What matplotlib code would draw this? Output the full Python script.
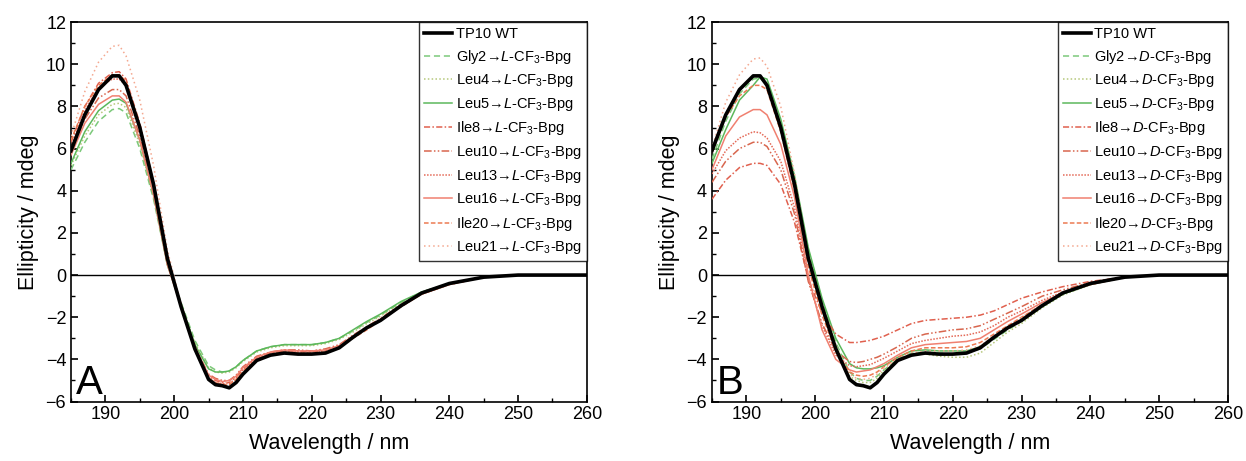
import matplotlib
matplotlib.use("Agg")
import matplotlib.pyplot as plt
from matplotlib.ticker import MultipleLocator

plt.rcParams['font.family'] = ['Liberation Sans', 'DejaVu Sans']
plt.rcParams['mathtext.fontset'] = 'custom'
plt.rcParams['mathtext.rm'] = 'Liberation Sans'
plt.rcParams['mathtext.it'] = 'Liberation Sans:italic'

wavelength = [185, 187, 189, 191, 192, 193, 195, 197, 199, 201, 203, 205, 206, 207, 208, 209,
              210, 212, 214, 216, 218, 220, 222, 224, 226, 228, 230, 233, 236, 240, 245, 250, 255, 260]

wt = [5.9, 7.6, 8.8, 9.45, 9.45, 9.0, 7.0, 4.3, 0.8, -1.5, -3.5, -4.95, -5.2, -5.25, -5.35, -5.1,
      -4.7, -4.05, -3.8, -3.7, -3.75, -3.75, -3.7, -3.45, -2.95, -2.5, -2.15, -1.45, -0.85, -0.4, -0.1, 0.0, 0.0, 0.0]

# Panel A (L-CF3-Bpg)
a_gly2 = [5.0, 6.3, 7.3, 7.85, 7.9, 7.7, 6.0, 3.6, 0.5, -1.3, -3.1, -4.3, -4.5, -4.6, -4.55, -4.35,
          -4.05, -3.6, -3.4, -3.3, -3.3, -3.3, -3.2, -3.0, -2.65, -2.25, -1.9, -1.3, -0.8, -0.4, -0.1, 0.0, 0.0, 0.0]
a_leu4 = [5.2, 6.6, 7.6, 8.1, 8.15, 7.95, 6.2, 3.7, 0.5, -1.4, -3.2, -4.4, -4.6, -4.65, -4.6, -4.4,
          -4.1, -3.65, -3.45, -3.35, -3.35, -3.35, -3.25, -3.05, -2.7, -2.3, -1.95, -1.35, -0.85, -0.4, -0.1, 0.0, 0.0, 0.0]
a_leu5 = [5.3, 6.8, 7.8, 8.3, 8.35, 8.15, 6.4, 3.8, 0.5, -1.4, -3.3, -4.45, -4.6, -4.6, -4.55, -4.35,
          -4.05, -3.6, -3.4, -3.3, -3.3, -3.3, -3.2, -3.0, -2.6, -2.2, -1.85, -1.25, -0.8, -0.4, -0.1, 0.0, 0.0, 0.0]
a_ile8 = [6.3, 8.0, 9.1, 9.6, 9.65, 9.3, 7.2, 4.4, 0.9, -1.5, -3.5, -4.8, -5.0, -5.1, -5.1, -4.85,
          -4.45, -3.9, -3.7, -3.6, -3.6, -3.65, -3.6, -3.35, -2.9, -2.5, -2.1, -1.45, -0.85, -0.4, -0.1, 0.0, 0.0, 0.0]
a_leu10 = [5.9, 7.4, 8.4, 8.8, 8.8, 8.5, 6.6, 4.0, 0.6, -1.5, -3.4, -4.7, -4.9, -5.0, -5.0, -4.75,
           -4.35, -3.85, -3.65, -3.55, -3.55, -3.6, -3.5, -3.3, -2.85, -2.45, -2.05, -1.4, -0.85, -0.4, -0.1, 0.0, 0.0, 0.0]
a_leu13 = [6.1, 7.8, 8.9, 9.3, 9.3, 9.0, 6.9, 4.2, 0.7, -1.5, -3.5, -4.9, -5.1, -5.15, -5.15, -4.9,
           -4.5, -3.95, -3.7, -3.6, -3.65, -3.7, -3.6, -3.4, -2.95, -2.55, -2.15, -1.5, -0.9, -0.45, -0.1, 0.0, 0.0, 0.0]
a_leu16 = [5.7, 7.2, 8.1, 8.5, 8.5, 8.2, 6.4, 3.8, 0.5, -1.5, -3.4, -4.75, -4.95, -5.05, -5.0, -4.8,
           -4.4, -3.9, -3.65, -3.55, -3.6, -3.6, -3.55, -3.35, -2.9, -2.5, -2.1, -1.45, -0.9, -0.45, -0.1, 0.0, 0.0, 0.0]
a_ile20 = [6.4, 8.0, 9.0, 9.5, 9.5, 9.2, 7.1, 4.4, 0.9, -1.4, -3.5, -4.9, -5.1, -5.2, -5.2, -4.95,
           -4.55, -4.0, -3.75, -3.65, -3.7, -3.7, -3.65, -3.45, -3.0, -2.6, -2.15, -1.5, -0.9, -0.45, -0.1, 0.0, 0.0, 0.0]
a_leu21 = [6.6, 8.7, 10.1, 10.85, 10.9, 10.4, 8.3, 5.2, 1.2, -1.4, -3.6, -4.9, -5.1, -5.15, -5.1, -4.9,
           -4.6, -4.1, -3.8, -3.7, -3.7, -3.7, -3.6, -3.4, -2.95, -2.55, -2.1, -1.45, -0.9, -0.45, -0.1, 0.0, 0.0, 0.0]

# Panel B (D-CF3-Bpg)
b_gly2 = [5.5, 7.3, 8.6, 9.3, 9.35, 9.0, 7.2, 4.6, 1.2, -1.2, -3.2, -4.6, -4.9, -5.0, -5.0, -4.8,
          -4.5, -4.0, -3.7, -3.65, -3.7, -3.75, -3.7, -3.5, -3.05, -2.6, -2.2, -1.5, -0.9, -0.45, -0.1, 0.0, 0.0, 0.0]
b_leu4 = [5.8, 7.5, 8.8, 9.4, 9.45, 9.1, 7.2, 4.5, 1.0, -1.3, -3.3, -4.8, -5.0, -5.1, -5.1, -4.9,
          -4.5, -4.0, -3.75, -3.75, -3.85, -3.9, -3.9, -3.7, -3.2, -2.7, -2.3, -1.55, -0.95, -0.45, -0.1, 0.0, 0.0, 0.0]
b_leu5 = [5.3, 6.9, 8.3, 9.0, 9.4, 9.3, 7.4, 4.7, 1.3, -1.1, -3.0, -4.2, -4.4, -4.45, -4.45, -4.4,
          -4.3, -3.9, -3.6, -3.55, -3.6, -3.6, -3.6, -3.4, -2.95, -2.5, -2.15, -1.5, -0.9, -0.45, -0.1, 0.0, 0.0, 0.0]
b_ile8 = [3.6, 4.5, 5.1, 5.3, 5.3, 5.2, 4.3, 2.5, -0.2, -1.8, -2.8, -3.2, -3.2, -3.15, -3.1, -3.0,
          -2.9, -2.6, -2.3, -2.15, -2.1, -2.05, -2.0, -1.9, -1.7, -1.4, -1.1, -0.8, -0.55, -0.3, -0.1, 0.0, 0.0, 0.0]
b_leu10 = [4.4, 5.4, 6.0, 6.3, 6.3, 6.1, 5.0, 2.9, -0.3, -2.3, -3.6, -4.1, -4.15, -4.1, -4.0, -3.9,
           -3.75, -3.4, -3.0, -2.8, -2.7, -2.6, -2.55, -2.4, -2.1, -1.8, -1.5, -1.0, -0.7, -0.35, -0.1, 0.0, 0.0, 0.0]
b_leu13 = [4.8, 5.9, 6.5, 6.8, 6.75, 6.5, 5.4, 3.2, -0.2, -2.4, -3.8, -4.3, -4.35, -4.3, -4.25, -4.1,
           -3.95, -3.6, -3.25, -3.1, -3.0, -2.9, -2.85, -2.7, -2.4, -2.0, -1.7, -1.2, -0.8, -0.4, -0.1, 0.0, 0.0, 0.0]
b_leu16 = [5.0, 6.6, 7.5, 7.85, 7.85, 7.6, 6.2, 3.7, 0.0, -2.6, -4.0, -4.5, -4.6, -4.55, -4.5, -4.35,
           -4.2, -3.8, -3.45, -3.3, -3.25, -3.2, -3.15, -3.0, -2.6, -2.2, -1.85, -1.3, -0.85, -0.45, -0.1, 0.0, 0.0, 0.0]
b_ile20 = [5.8, 7.5, 8.5, 9.0, 9.0, 8.8, 6.8, 4.0, 0.4, -1.9, -3.6, -4.6, -4.75, -4.8, -4.75, -4.6,
           -4.35, -3.9, -3.6, -3.45, -3.45, -3.45, -3.4, -3.2, -2.8, -2.4, -2.0, -1.4, -0.85, -0.45, -0.1, 0.0, 0.0, 0.0]
b_leu21 = [6.0, 8.2, 9.5, 10.25, 10.3, 9.9, 8.0, 4.8, 0.8, -1.6, -3.7, -4.7, -4.9, -4.95, -4.9, -4.7,
           -4.4, -4.0, -3.7, -3.6, -3.6, -3.6, -3.55, -3.35, -2.9, -2.5, -2.0, -1.4, -0.85, -0.45, -0.1, 0.0, 0.0, 0.0]

residues = ['Gly2', 'Leu4', 'Leu5', 'Ile8', 'Leu10', 'Leu13', 'Leu16', 'Ile20', 'Leu21']
series_a = [a_gly2, a_leu4, a_leu5, a_ile8, a_leu10, a_leu13, a_leu16, a_ile20, a_leu21]
series_b = [b_gly2, b_leu4, b_leu5, b_ile8, b_leu10, b_leu13, b_leu16, b_ile20, b_leu21]

colors = ['#7cc97a', '#b5c77a', '#5cb85c', '#e0604e', '#d8664e', '#e46a58', '#f08070', '#ec7a52', '#f4a890']
styles = [(0, (4, 2.5)), (0, (1, 1.5)), '-', (0, (4, 1.5, 1, 1.5)), (0, (5, 1.5, 1, 1.5, 1, 1.5)),
          (0, (1, 1)), '-', (0, (3, 1.5)), (0, (1, 2))]

fig = plt.figure(figsize=(12.46, 4.61), dpi=100)
axA = fig.add_axes([0.057, 0.129, 0.414, 0.823])
axB = fig.add_axes([0.5714, 0.129, 0.4141, 0.823])

for ax, series, iso, letter in [(axA, series_a, 'L', 'A'), (axB, series_b, 'D', 'B')]:
    ax.axhline(0, color='black', lw=1.0, zorder=1)
    ax.plot(wavelength, wt, color='black', lw=2.6, label='TP10 WT', zorder=5)
    for res, ys, c, ls in zip(residues, series, colors, styles):
        ax.plot(wavelength, ys, color=c, lw=1.1, ls=ls,
                label=res + '→$\\mathit{' + iso + '}$-CF$_3$-Bpg', zorder=3)
    ax.set_xlim(185, 260)
    ax.set_ylim(-6, 12)
    ax.xaxis.set_major_locator(MultipleLocator(10))
    ax.xaxis.set_minor_locator(MultipleLocator(5))
    ax.yaxis.set_major_locator(MultipleLocator(2))
    ax.yaxis.set_minor_locator(MultipleLocator(1))
    ax.tick_params(which='both', direction='in', top=False, right=False, labelsize=13)
    ax.tick_params(which='major', length=5, width=1.2)
    ax.tick_params(which='minor', length=3, width=1.0)
    for s in ax.spines.values():
        s.set_linewidth(1.2)
    ax.set_xlabel('Wavelength / nm', fontsize=15.5, labelpad=7)
    ax.set_ylabel('Ellipticity / mdeg', fontsize=15.5, labelpad=5)
    ax.text(0.01, 0.0, letter, transform=ax.transAxes, fontsize=29, ha='left', va='bottom')
    leg = ax.legend(loc='upper right', borderaxespad=0, fontsize=10.5, frameon=True, fancybox=False,
                    edgecolor='black', handlelength=1.9, handletextpad=0.25, labelspacing=0.45,
                    borderpad=0.35)
    leg.get_frame().set_linewidth(1.0)

fig.savefig('out.png', dpi=100)
